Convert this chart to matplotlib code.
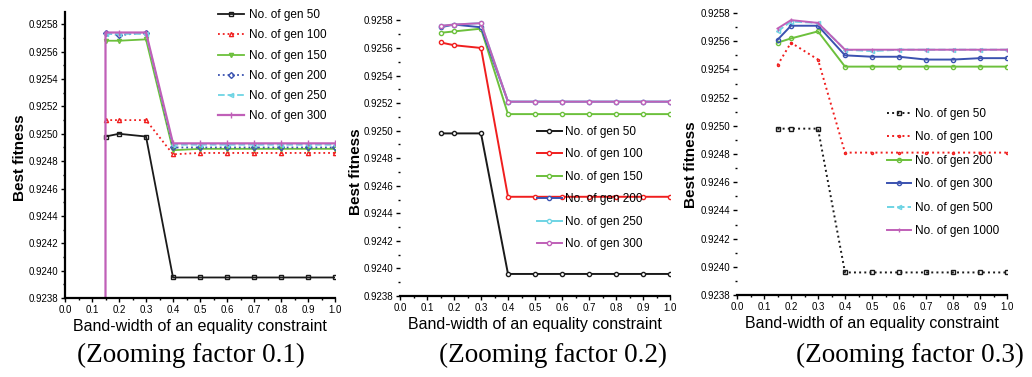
import numpy as np
import matplotlib
matplotlib.use('Agg')
import matplotlib.pyplot as plt
from matplotlib.ticker import MultipleLocator, FormatStrFormatter

plt.rcParams['font.family'] = ['Liberation Sans', 'DejaVu Sans']

# band-width values (x axis)
x = [0.15, 0.2, 0.3, 0.4, 0.5, 0.6, 0.7, 0.8, 0.9, 1.0]
x_drop = [0.15, 0.15, 0.2, 0.3, 0.4, 0.5, 0.6, 0.7, 0.8, 0.9, 1.0]

# zooming factor 0.1
labels1 = ['No. of gen 50', 'No. of gen 100', 'No. of gen 150',
           'No. of gen 200', 'No. of gen 250', 'No. of gen 300']
z1_g50 = [0.92498, 0.92500, 0.92498, 0.92395, 0.92395, 0.92395, 0.92395, 0.92395, 0.92395, 0.92395]
z1_g100 = [0.92510, 0.92510, 0.92510, 0.92485, 0.92486, 0.92486, 0.92486, 0.92486, 0.92486, 0.92486]
z1_g150 = [0.92568, 0.92568, 0.92569, 0.92488, 0.92489, 0.92489, 0.92489, 0.92489, 0.92489, 0.92489]
z1_g200 = [0.92574, 0.92572, 0.92574, 0.92490, 0.92490, 0.92490, 0.92490, 0.92490, 0.92490, 0.92490]
z1_g250 = [0.92573, 0.92573, 0.92573, 0.92492, 0.92492, 0.92492, 0.92492, 0.92492, 0.92492, 0.92492]
z1_g300 = [0.9230, 0.92574, 0.92574, 0.92574, 0.92493, 0.92493, 0.92493, 0.92493, 0.92493, 0.92493, 0.92493]

# zooming factor 0.2
labels2 = ['No. of gen 50', 'No. of gen 100', 'No. of gen 150',
           'No. of gen 200', 'No. of gen 250', 'No. of gen 300']
z2_g50 = [0.92498, 0.92498, 0.92498, 0.92396, 0.92396, 0.92396, 0.92396, 0.92396, 0.92396, 0.92396]
z2_g100 = [0.92564, 0.92562, 0.92560, 0.92452, 0.92452, 0.92452, 0.92452, 0.92452, 0.92452, 0.92452]
z2_g150 = [0.92571, 0.92572, 0.92574, 0.92512, 0.92512, 0.92512, 0.92512, 0.92512, 0.92512, 0.92512]
z2_g200 = [0.92575, 0.92577, 0.92575, 0.92521, 0.92521, 0.92521, 0.92521, 0.92521, 0.92521, 0.92521]
z2_g250 = [0.92576, 0.92577, 0.92578, 0.92521, 0.92521, 0.92521, 0.92521, 0.92521, 0.92521, 0.92521]
z2_g300 = [0.92576, 0.92577, 0.92578, 0.92521, 0.92521, 0.92521, 0.92521, 0.92521, 0.92521, 0.92521]

# zooming factor 0.3
labels3 = ['No. of gen 50', 'No. of gen 100', 'No. of gen 200',
           'No. of gen 300', 'No. of gen 500', 'No. of gen 1000']
z3_g50 = [0.92498, 0.92498, 0.92498, 0.92396, 0.92396, 0.92396, 0.92396, 0.92396, 0.92396, 0.92396]
z3_g100 = [0.92543, 0.92559, 0.92547, 0.92481, 0.92481, 0.92481, 0.92481, 0.92481, 0.92481, 0.92481]
z3_g200 = [0.92559, 0.92562, 0.92567, 0.92542, 0.92542, 0.92542, 0.92542, 0.92542, 0.92542, 0.92542]
z3_g300 = [0.92561, 0.92571, 0.92571, 0.92550, 0.92549, 0.92549, 0.92547, 0.92547, 0.92548, 0.92548]
z3_g500 = [0.92567, 0.92574, 0.92573, 0.92554, 0.92553, 0.92554, 0.92554, 0.92554, 0.92554, 0.92554]
z3_g1000 = [0.92569, 0.92575, 0.92573, 0.92554, 0.92554, 0.92554, 0.92554, 0.92554, 0.92554, 0.92554]

colors = ['#1a1a1a', '#f01e1e', '#6cc03c', '#3a52b0', '#6ed4e4', '#c060b8']
markers = ['s', '^', 'v', 'D', '<', '|']

fig = plt.figure(figsize=(10.32, 3.77), dpi=100)
W, H = 1032.0, 377.0


def setup(ax, ylim, left_spine=True):
    ax.set_xlim(0, 1.0)
    ax.set_ylim(*ylim)
    ax.spines['top'].set_visible(False)
    ax.spines['right'].set_visible(False)
    ax.spines['left'].set_visible(left_spine)
    ax.spines['bottom'].set_linewidth(1.6)
    ax.spines['left'].set_linewidth(1.6)
    ax.xaxis.set_major_locator(MultipleLocator(0.1))
    ax.xaxis.set_minor_locator(MultipleLocator(0.05))
    ax.yaxis.set_major_locator(MultipleLocator(0.0002))
    ax.yaxis.set_minor_locator(MultipleLocator(0.0001))
    ax.xaxis.set_major_formatter(FormatStrFormatter('%.1f'))
    ax.yaxis.set_major_formatter(FormatStrFormatter('%.4f'))
    ax.tick_params(which='major', direction='out', length=3, width=1, labelsize=7, pad=2)
    ax.tick_params(which='minor', direction='out', length=1.5, width=1)
    ax.set_xlabel('Band-width of an equality constraint', fontsize=11.5, labelpad=3)
    ax.set_ylabel('Best fitness', fontsize=11, fontweight='bold')


# panel 1
ax1 = fig.add_axes([65 / W, 79 / H, 270 / W, 286 / H])
styles1 = ['-', ':', '-', ':', '--', '-']
ys1 = [z1_g50, z1_g100, z1_g150, z1_g200, z1_g250]
for i, y in enumerate(ys1):
    ax1.plot(x, y, linestyle=styles1[i], color=colors[i], marker=markers[i],
             ms=3, mfc='none', lw=1.3, label=labels1[i])
ax1.plot(x_drop, z1_g300, linestyle='-', color=colors[5], marker=markers[5],
         ms=5, lw=1.6, label=labels1[5])
setup(ax1, (0.9238, 0.92589))
ax1.yaxis.set_label_coords(-38 / 270, 0.49)
ax1.legend(loc='upper left', bbox_to_anchor=(0.567, 1.01), frameon=False, fontsize=8.5,
           handlelength=2.2, handletextpad=0.4, labelspacing=0.7, borderpad=0, borderaxespad=0)

# panel 2
ax2 = fig.add_axes([400 / W, 81 / H, 270 / W, 288 / H])
ys2 = [z2_g50, z2_g100, z2_g150, z2_g200, z2_g250, z2_g300]
for i, y in enumerate(ys2):
    ax2.plot(x, y, linestyle='-', color=colors[i], marker='o', ms=3, mfc='white',
             lw=1.4, label=labels2[i])
setup(ax2, (0.9238, 0.92589), left_spine=False)
ax2.yaxis.set_label_coords(-37 / 270, 0.43)
ax2.legend(loc='upper left', bbox_to_anchor=(0.507, 0.59), frameon=False, fontsize=8.5,
           handlelength=2.1, handletextpad=0.3, labelspacing=0.88, borderpad=0, borderaxespad=0)

# panel 3
ax3 = fig.add_axes([737 / W, 82 / H, 270 / W, 289 / H])
styles3 = [':', ':', '-', '-', '--', '-']
markers3 = ['s', '.', 'o', 'o', '<', '|']
ys3 = [z3_g50, z3_g100, z3_g200, z3_g300, z3_g500, z3_g1000]
for i, y in enumerate(ys3):
    ax3.plot(x, y, linestyle=styles3[i], color=colors[i], marker=markers3[i], ms=3,
             mfc='none', lw=1.4, label=labels3[i])
setup(ax3, (0.9238, 0.92585), left_spine=False)
ax3.yaxis.set_label_coords(-39 / 270, 0.45)
ax3.legend(loc='upper left', bbox_to_anchor=(0.556, 0.647), frameon=False, fontsize=8.5,
           handlelength=2.0, handletextpad=0.4, labelspacing=0.97, borderpad=0, borderaxespad=0)

fig.text(191 / W, 1 - 355 / H, '(Zooming factor 0.1)', ha='center', va='center',
         fontsize=19.5, family=['Liberation Serif', 'DejaVu Serif'])
fig.text(553 / W, 1 - 355 / H, '(Zooming factor 0.2)', ha='center', va='center',
         fontsize=19.5, family=['Liberation Serif', 'DejaVu Serif'])
fig.text(910 / W, 1 - 355 / H, '(Zooming factor 0.3)', ha='center', va='center',
         fontsize=19.5, family=['Liberation Serif', 'DejaVu Serif'])

fig.savefig('out.png', dpi=100)
